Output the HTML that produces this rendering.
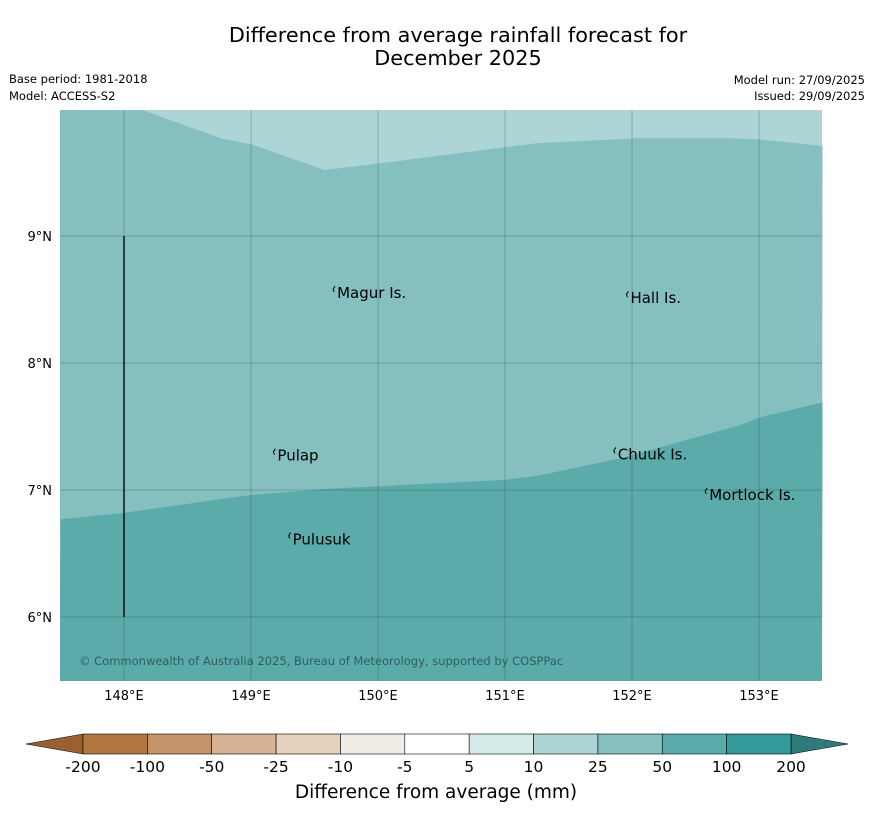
<!DOCTYPE html>
<html><head><meta charset="utf-8"><style>
body{margin:0;background:#fff;font-family:"DejaVu Sans","Liberation Sans",sans-serif;}
svg text{font-family:"DejaVu Sans","Liberation Sans",sans-serif;}
</style></head><body>
<svg id="s" width="873" height="816" viewBox="0 0 873 816" xmlns="http://www.w3.org/2000/svg">
<text x="458" y="42" font-size="20.8" text-anchor="middle">Difference from average rainfall forecast for</text>
<text x="458" y="65" font-size="20.8" text-anchor="middle">December 2025</text>
<text x="9" y="83" font-size="11.5">Base period: 1981-2018</text>
<text x="9" y="100" font-size="11.5">Model: ACCESS-S2</text>
<text x="865" y="84" font-size="11.5" text-anchor="end">Model run: 27/09/2025</text>
<text x="865" y="100" font-size="11.5" text-anchor="end">Issued: 29/09/2025</text>
<g id="map"></g>
<g id="cbar"></g>
<text x="436" y="798" font-size="18.5" text-anchor="middle">Difference from average (mm)</text>
</svg>
<script>
const topLon=[148.15,148.76,149.01,149.58,150.0,151.0,151.25,152.06,152.77,153.01,153.5];
const topLat=[9.99,9.77,9.72,9.52,9.57,9.70,9.73,9.77,9.77,9.76,9.71];
const lowLon=[147.5,148.0,148.99,149.61,151.0,151.25,151.91,152.85,153.0,153.5];
const lowLat=[6.77,6.82,6.96,7.01,7.08,7.11,7.25,7.51,7.57,7.69];
const lonTicks=[148,149,150,151,152,153];
const latTicks=[9,8,7,6];
const places=["Magur Is.","Hall Is.","Pulap","Chuuk Is.","Mortlock Is.","Pulusuk"];
const placeLon=[149.67,151.98,149.2,151.88,152.6,149.32];
const placeLat=[8.55,8.51,7.27,7.28,6.96,6.61];
const cbLabels=["-200","-100","-50","-25","-10","-5","5","10","25","50","100","200"];
const cbColors=["#b07840","#c3956a","#d5b394","#e6d1bf","#f0ece6","#ffffff","#d5ebea","#aed5d5","#85bfbf","#5babab","#339999"];
const X=l=>60+(l-147.496)*127, Y=l=>236-(l-9)*127;
const NS="http://www.w3.org/2000/svg";
function mk(t,a,p){const e=document.createElementNS(NS,t);for(const k in a)e.setAttribute(k,a[k]);p.appendChild(e);return e;}
const m=document.getElementById('map');
const r=mk('rect',{x:60,y:110,width:762,height:571,fill:'#aed5d5'},m);


let d='M60,110 ';topLon.forEach((l,i)=>d+='L'+X(l)+','+Y(topLat[i])+' ');d+='L822,681 L60,681 Z';
const p1=mk('path',{d:d,fill:'#85bfbf'},m);


d='';lowLon.forEach((l,i)=>d+=(i?'L':'M')+X(l)+','+Y(lowLat[i])+' ');d+='L822,681 L60,681 Z';
const p2=mk('path',{d:d,fill:'#5babab'},m);


lonTicks.forEach(l=>{const g=mk('line',{x1:X(l),x2:X(l),y1:110,y2:681,stroke:'#2a4a4a','stroke-width':0.5,'stroke-opacity':0.6},m);


const t=mk('text',{x:X(l),y:700,'font-size':13,'text-anchor':'middle'},m);t.textContent=l+'°E';

});
latTicks.forEach(l=>{const g=mk('line',{x1:60,x2:822,y1:Y(l),y2:Y(l),stroke:'#2a4a4a','stroke-width':0.5,'stroke-opacity':0.6},m);


const t=mk('text',{x:52,y:Y(l)+5,'font-size':13,'text-anchor':'end'},m);t.textContent=l+'°N';

});
const vl=mk('line',{x1:X(148),x2:X(148),y1:Y(9),y2:Y(6),stroke:'#111','stroke-width':1.5},m);


places.forEach((n,i)=>{const t=mk('text',{x:X(placeLon[i])+1,y:Y(placeLat[i])+5,'font-size':15},m);t.textContent=n;


const c=mk('path',{d:`M${X(placeLon[i])-1},${Y(placeLat[i])-7} l-2,3 l1,3`,stroke:'#000',fill:'none','stroke-width':1},m);

});
const cr=mk('text',{x:79,y:665,'font-size':11.5,fill:'#2f5f5f'},m);cr.textContent='© Commonwealth of Australia 2025, Bureau of Meteorology, supported by COSPPac';


const cb=document.getElementById('cbar');const x0=83,x1=791,w=(x1-x0)/cbColors.length;
const lt=mk('polygon',{points:`26,744 ${x0},734 ${x0},754`,fill:'#9a6030',stroke:'#000','stroke-width':0.5},cb);


const rt=mk('polygon',{points:`848,744 ${x1},734 ${x1},754`,fill:'#2f7a7a',stroke:'#000','stroke-width':0.5},cb);


cbColors.forEach((c,i)=>{const s=mk('rect',{x:x0+i*w,y:734,width:w,height:20,fill:c,stroke:'#000','stroke-width':0.6},cb);

});
cbLabels.forEach((l,i)=>{const t=mk('text',{x:x0+i*w,y:772,'font-size':15.5,'text-anchor':'middle'},cb);t.textContent=l;

});
</script>
</body></html>
